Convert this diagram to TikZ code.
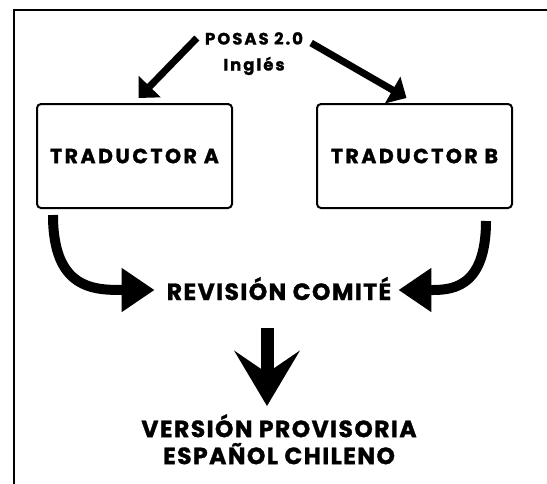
\documentclass[tikz,border=0pt]{standalone}
\usepackage{fontspec}
\setmainfont{Poppins}
\newfontfamily\widefont{Poppins}[LetterSpace=12,BoldFeatures={FakeBold=1.2}]
\newfontfamily\midfont{Poppins}[LetterSpace=6,BoldFeatures={FakeBold=1.2}]
\usetikzlibrary{arrows.meta}
\begin{document}
\begin{tikzpicture}[x=1pt,y=-1pt,
  box/.style={draw,line width=2pt,rounded corners=4pt,minimum width=195pt,minimum height=104pt,inner sep=0pt,font=\widefont\bfseries\fontsize{20.5}{24}\selectfont},
  lbl/.style={inner sep=0pt,align=center}]
\useasboundingbox (0,0) rectangle (547,483);
\draw[line width=2pt] (13.5,490) -- (13.5,9.5) -- (555,9.5);
\path (254,32) node[lbl,anchor=north,font=\widefont\bfseries\fontsize{16.5}{26}\selectfont] (src) {POSAS 2.0\\Inglés}
 (134.5,156) node[box] (A) {TRADUCTOR A}
 (414.5,156) node[box] (B) {TRADUCTOR B}
 (279,300) node[lbl,anchor=base,font=\midfont\bfseries\fontsize{23.5}{26}\selectfont] (rev) {REVISIÓN COMITÉ}
 (279,414) node[lbl,anchor=north,font=\midfont\bfseries\fontsize{23.5}{27}\selectfont] (fin) {VERSIÓN PROVISORIA\\ESPAÑOL CHILENO};
% sources to translators
\draw[line width=7pt,-{Triangle[length=16pt,width=30pt]}] ([shift={(-8,6)}]src.north west) -- ([shift={(4,-5)}]A.north);
\draw[line width=7pt,-{Triangle[length=16pt,width=30pt]}] ([shift={(8,11)}]src.north east) -- ([shift={(-8,-5)}]B.north);
% translators to committee
\draw[line width=10pt,-{Triangle[length=33pt,width=42pt]}] ([shift={(17,6)}]A.south west) .. controls +(0,75) and +(-60,0) .. ([shift={(-12,-10)}]rev.base west);
\draw[line width=10pt,-{Triangle[length=33pt,width=42pt]}] ([shift={(-27,12)}]B.south east) .. controls +(0,70) and +(50,0) .. ([shift={(7,-10)}]rev.base east);
% committee to final version
\draw[line width=13pt,-{Stealth[length=55pt,width=65pt,inset=22pt]}] ([shift={(-12,28)}]rev.base) -- ([shift={(-12,-8)}]fin.north);
\end{tikzpicture}
\end{document}
